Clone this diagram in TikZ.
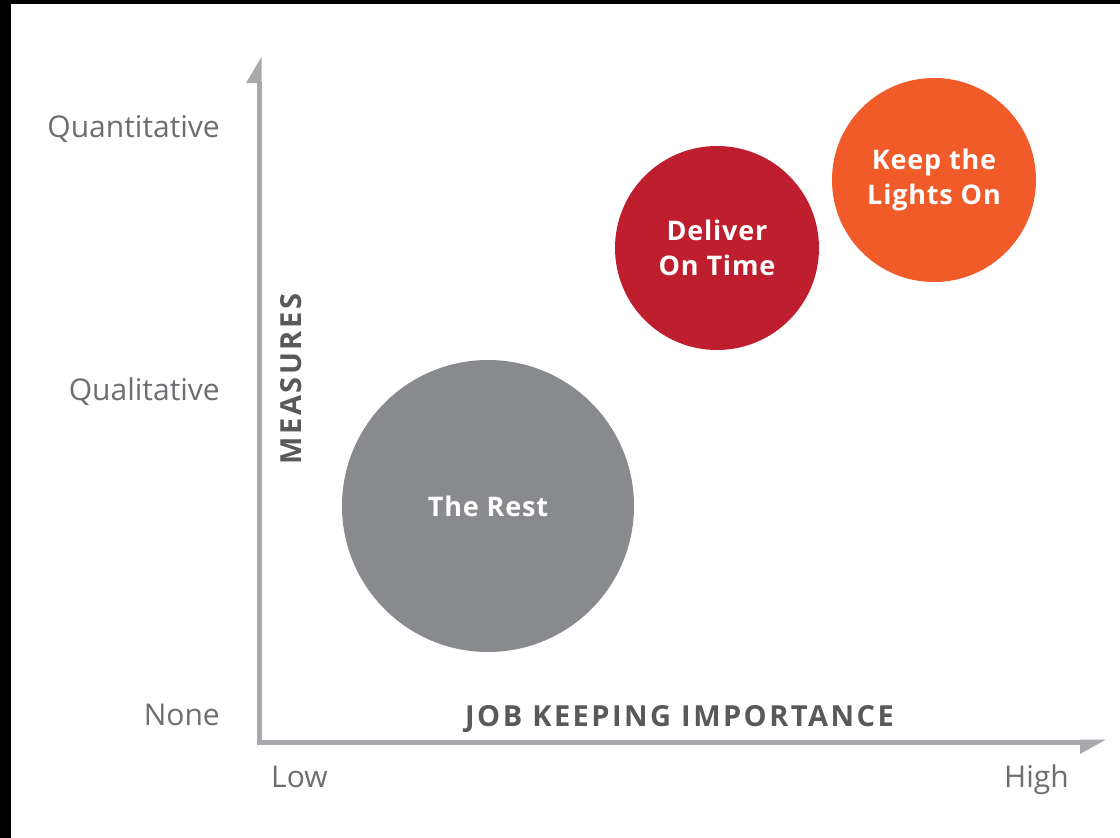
\documentclass[tikz,border=0pt]{standalone}
\usepackage{fontspec}
\setmainfont{Open Sans}
\definecolor{axisgray}{HTML}{A7A9AC}
\definecolor{labelgray}{HTML}{6D6E71}
\definecolor{titlegray}{HTML}{58595B}
\definecolor{restgray}{HTML}{898A8D}
\definecolor{deliverred}{HTML}{BE1E2D}
\definecolor{lightsorange}{HTML}{F15A29}
\begin{document}
\begin{tikzpicture}[x=1pt,y=-1pt,
  ticklabel/.style={text=labelgray,font=\fontsize{30}{36}\selectfont,inner sep=0pt},
  axistitle/.style={text=titlegray,font=\bfseries\fontsize{29}{34}\selectfont,inner sep=0pt},
  bubble/.style={circle,draw=none,inner sep=0pt,text=white,align=center,
    font=\bfseries\fontsize{27}{35}\selectfont}]
\useasboundingbox (0,0) rectangle (1120,838);
\fill[white] (0,0) rectangle (1120,838);
\fill[black] (0,0) rectangle (1120,4);
\fill[black] (0,0) rectangle (11,838);
% axes
\coordinate (origin) at (259,742);
\coordinate (ytip) at (259,82);
\coordinate (xtip) at (1081,742);
\draw[axisgray,line width=5pt] (ytip) -- (origin) -- (xtip);
\fill[axisgray] (261.5,57) -- (246,83) -- (261.5,83) -- cycle;
\fill[axisgray] (1080,739.5) -- (1106,739.5) -- (1080,754) -- cycle;
% tick labels
\node[ticklabel,anchor=base east] (quant) at (220,137) {Quantitative};
\node[ticklabel,anchor=base east] (qual) at (220,400) {Qualitative};
\node[ticklabel,anchor=base east] (none) at (220,725) {None};
\node[ticklabel,anchor=base west] (low) at (271,787) {Low};
\node[ticklabel,anchor=base east] (high) at (1069,787) {High};
% axis titles
\node[axistitle,anchor=base west] (xtitle) at (465,726) {\addfontfeatures{LetterSpace=8.5}JOB KEEPING IMPORTANCE};
\node[axistitle,rotate=90,anchor=base] (ytitle) at (301,379) {\addfontfeatures{LetterSpace=9}MEASURES};
% bubbles
\node[bubble,fill=restgray,minimum size=292pt] (rest) at (488,506) {\addfontfeatures{LetterSpace=3}The Rest};
\node[bubble,fill=deliverred,minimum size=204pt] (deliver) at (717,248) {\addfontfeatures{LetterSpace=3}Deliver\\\addfontfeatures{LetterSpace=3}On Time};
\node[bubble,fill=lightsorange,minimum size=204pt] (lights) at (934,180) {\addfontfeatures{LetterSpace=3}Keep the\\\addfontfeatures{LetterSpace=3}Lights On};
\end{tikzpicture}
\end{document}
